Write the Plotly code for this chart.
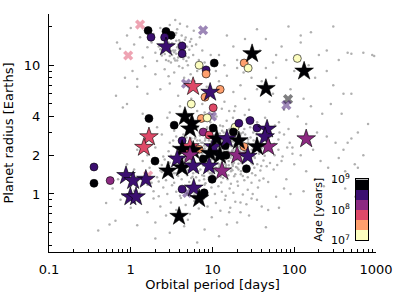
import plotly.graph_objects as go

# ---------------- background sample (period [d], radius [Re]) ----------------
hot_jupiters = [(3.5,13),(3.2,12),(4.1,14),(2.9,15),(3.8,11.5),(4.5,12.5),(3.0,13.5),(2.5,12.8),(5.2,13.2),(3.6,15.5),
    (4.8,10.8),(2.7,11),(3.3,16.5),(4.2,17),(2.2,14),(5.8,12),(3.9,9.8),(2.4,16),(6.3,14.5),(3.1,10.5),(4.6,15.8),(2.8,18),
    (3.7,19),(5.5,16),(2.0,12.5),(1.8,15),(6.8,11),(4.3,9.5),(3.4,8.8),(5.0,10),(2.6,9.3),(7.5,13),(1.6,13.8),(2.3,19.5),
    (4.0,21),(3.0,20.5),(5.9,18.5),(1.9,17.5),(6.5,9),(8.0,10.5),(2.1,10.8),(4.9,20),(3.5,22.5),(1.4,11.5),(1.3,16.5),
    (9.5,12),(7.0,16.5),(2.9,8.2),(5.4,8.5),(3.6,17.8),(4.4,13.6),(3.9,12.2),(2.6,13.9),(3.3,14.6),(4.7,11.8),(3.1,12.9),
    (5.6,14.1),(2.4,11.9),(4.0,15.1),(3.7,10.9),(0.66,5.8),(0.8,4.7),(0.68,15),(0.74,13.4),(0.9,17),(1.05,9),(1.1,14.5),
    (1.2,6.8),(1.0,19.5),(0.85,8.0),(1.4,4.2),(1.5,9.8)]
hot_jupiter_core = [(2.8,13.2),(3.0,11.8),(3.2,14.8),(3.4,12.6),(3.5,10.9),(3.7,13.8),(3.9,15.6),(4.0,12.0),(4.2,13.1),
    (4.4,11.2),(4.5,14.2),(4.7,16.4),(3.1,16.0),(3.6,12.3),(2.7,14.5),(2.6,12.2),(3.3,13.0),(3.8,14.4),(4.1,11.6),(4.9,13.9),
    (5.1,11.5),(2.9,10.8),(3.5,17.2),(4.3,15.0),(3.0,14.1),(3.9,13.3),(4.6,12.9),(5.3,15.2),(2.3,13.3),(3.4,11.3)]
intermediate = [(2.3,6.5),(3.0,7.2),(4.5,8.0),(6.0,7.5),(8.5,6.8),(12,7.5),(15,8.3),(5.5,5.5),(7.5,5.0),(10,5.8),(14,5.2),
    (18,6.2),(22,7.0),(25,5.5),(30,8.0),(9,8.5),(11,9.0),(20,9.5),(13,4.6),(16,4.4),(3.8,5.8),(2.0,8.5),(1.6,6.0),(0.9,5.0),
    (1.2,7.8),(35,6.5),(40,7.5),(50,5.2),(28,4.5),(6.5,4.4),(4.0,4.8),(8.0,4.3),(12.5,6.3),(19,4.8),(24,8.8),(45,9.5),(60,8.0),(55,6.0)]
outer = [(60,12),(80,11),(120,15),(150,10),(200,12),(250,13),(350,11),(450,12.5),(500,12.3),(70,14),(100,9),(180,8),(300,7),
    (400,6),(90,6.5),(130,5.5),(160,4.8),(220,4.2),(280,5),(75,4.5),(110,4),(65,3.6),(85,3.2),(140,3.5),(190,3),(250,2.8),
    (320,2.5),(500,2.7),(600,3.0),(95,2.3),(120,2.0),(170,2.2),(210,1.8),(260,1.6),(350,1.9),(420,1.5),(140,1.5),(100,1.7),
    (80,1.3),(180,1.3),(230,1.15),(300,1.25),(130,1.05),(90,1.0),(400,2.2),(550,1.7),(45,16),(38,13),(55,10.5),(120,17),
    (160,18),(35,19),(25,16),(18,14),(15,17),(12,12),(20,11),(14,10),(300,20),(700,12.5),(250,9.0),(85,20),(900,12),(950,11.8),
    (380,4.2),(450,2.5),(600,1.6),(800,3.5),(500,6),(700,2.0),(420,1.1),(560,0.95),
    (16,0.72),(22,0.86),(28,0.68),(35,0.9),(48,0.75),(60,0.95),(75,1.1),(20,0.6),(45,0.55),(65,0.78)]
small_planets = [
    (2.1,3.3),(2.8,3.9),(3.4,3.1),(4.1,3.6),(4.9,3.2),(5.6,4.1),(6.3,3.4),(7.1,3.0),(7.9,3.8),(8.6,3.3),(9.4,3.6),(10.3,3.1),
    (11.2,4.0),(12.4,3.4),(13.7,3.0),(14.9,3.7),(16.2,3.2),(17.8,3.9),(19.5,3.1),(21.3,3.5),(23.6,3.0),(26.0,3.8),(28.9,3.3),
    (31.5,3.0),(35.2,3.6),(39.0,3.2),(44.0,3.9),(49.5,3.1),(58.0,3.4),(66.0,3.0),(3.0,4.3),(9.9,4.2),(18.5,4.4),(24.8,4.1),(6.8,3.7),
    (1.8,2.6),(2.4,2.9),(3.0,2.5),(3.6,2.8),(4.2,2.45),(4.8,2.75),(5.3,2.55),(5.9,2.95),(6.5,2.6),(7.0,2.85),(7.6,2.5),(8.2,2.7),
    (8.9,2.9),(9.6,2.55),(10.2,2.8),(10.9,2.45),(11.6,2.65),(12.3,2.95),(13.1,2.6),(13.9,2.8),(14.8,2.5),(15.7,2.75),(16.7,2.95),
    (17.9,2.55),(19.0,2.7),(20.4,2.45),(21.8,2.85),(23.3,2.6),(25.1,2.9),(27.0,2.5),(29.2,2.75),(31.8,2.6),(34.5,2.9),(37.6,2.5),
    (41.0,2.7),(45.5,2.55),(51.0,2.8),(57.0,2.45),(64.0,2.65),(75.0,2.9),(88.0,2.5),(6.1,2.7),(9.1,2.75),(12.0,2.5),(16.0,2.62),
    (1.2,2.2),(1.6,2.0),(2.0,2.3),(2.5,1.95),(2.9,2.15),(3.3,2.35),(3.7,2.0),(4.1,2.25),(4.5,1.92),(4.9,2.1),(5.3,2.38),(5.7,2.02),
    (6.1,2.2),(6.6,1.95),(7.0,2.32),(7.5,2.08),(8.0,2.25),(8.5,1.98),(9.0,2.15),(9.5,2.36),(10.1,2.05),(10.7,2.22),(11.3,1.93),
    (11.9,2.3),(12.6,2.1),(13.3,1.97),(14.0,2.28),(14.8,2.05),(15.6,2.35),(16.5,2.0),(17.4,2.18),(18.4,1.94),(19.5,2.3),(20.7,2.08),
    (22.0,2.25),(23.4,1.96),(24.9,2.14),(26.5,2.37),(28.3,2.02),(30.2,2.2),(32.3,1.95),(34.6,2.3),(37.2,2.1),(40.0,2.27),(43.5,1.98),
    (47.5,2.16),(52.0,2.34),(57.5,2.0),(64.0,2.2),(72.0,1.95),(82.0,2.3),(95.0,2.05),(5.0,2.0),(7.8,2.12),(10.4,2.0),(13.7,2.16),
    (18.0,2.05),(21.0,2.33),(3.1,1.98),(6.3,2.28)]
super_earths = [
    (0.9,1.7),(1.1,1.55),(1.4,1.8),(1.7,1.6),(2.0,1.75),(2.3,1.52),(2.6,1.85),(2.9,1.65),(3.2,1.5),(3.5,1.78),(3.8,1.6),(4.2,1.88),
    (4.6,1.68),(5.0,1.53),(5.4,1.8),(5.8,1.62),(6.2,1.72),(6.7,1.5),(7.2,1.86),(7.7,1.66),(8.2,1.55),(8.8,1.78),(9.4,1.6),(10.0,1.7),
    (10.7,1.52),(11.4,1.84),(12.2,1.64),(13.0,1.75),(13.9,1.54),(14.8,1.88),(15.8,1.67),(16.9,1.58),(18.1,1.8),(19.4,1.62),(20.8,1.72),
    (22.3,1.5),(24.0,1.85),(25.8,1.65),(27.8,1.56),(30.0,1.78),(32.5,1.6),(35.3,1.7),(38.5,1.52),(42.0,1.82),(46.0,1.64),(50.5,1.74),
    (56.0,1.55),(62.0,1.68),(70.0,1.8),(4.0,1.7),(6.0,1.58),(8.5,1.68),(11.0,1.6),(14.3,1.72),(17.5,1.53),(2.4,1.68),(3.0,1.75),
    (5.2,1.62),(9.7,1.85),(12.6,1.57),
    (0.7,1.3),(0.95,1.45),(1.2,1.25),(1.5,1.4),(1.8,1.22),(2.1,1.35),(2.4,1.48),(2.7,1.28),(3.0,1.42),(3.4,1.22),(3.8,1.38),(4.2,1.3),
    (4.7,1.46),(5.2,1.24),(5.7,1.36),(6.3,1.48),(6.9,1.27),(7.5,1.4),(8.2,1.21),(9.0,1.34),(9.8,1.45),(10.7,1.26),(11.7,1.38),
    (12.8,1.23),(14.0,1.44),(15.3,1.3),(16.8,1.2),(18.4,1.37),(20.2,1.25),(22.2,1.42),(24.5,1.28),(27.0,1.35),(30.0,1.22),(33.5,1.4),
    (37.5,1.27),(42.0,1.32),(48.0,1.24),(3.6,1.45),(5.5,1.33),(7.9,1.3),(10.2,1.38),(13.5,1.33),(2.2,1.25),(1.35,1.33),
    (0.6,1.1),(0.8,0.98),(1.0,1.15),(1.3,1.02),(1.6,1.18),(1.9,1.05),(2.2,0.96),(2.5,1.12),(2.8,1.0),(3.2,1.17),(3.6,1.04),(4.0,0.97),
    (4.4,1.13),(4.9,1.01),(5.4,1.16),(6.0,0.99),(6.6,1.1),(7.3,1.03),(8.0,1.18),(8.8,0.98),(9.7,1.12),(10.7,1.0),(11.8,1.15),
    (13.0,1.04),(14.5,0.97),(16.2,1.1),(18.0,1.02),(20.5,1.16),(23.5,0.99),(27.0,1.08),(31.0,1.0),(36.0,1.12),(4.7,1.07),(7.0,1.14),
    (1.1,1.06),
    (0.5,0.85),(0.75,0.9),(1.0,0.78),(1.3,0.88),(1.6,0.72),(1.9,0.92),(2.3,0.8),(2.7,0.68),(3.1,0.86),(3.6,0.75),(4.1,0.93),(4.7,0.82),
    (5.3,0.7),(6.0,0.88),(6.8,0.77),(7.7,0.91),(8.7,0.8),(9.8,0.66),(11.0,0.85),(12.5,0.74),(14.2,0.9),(16.5,0.78),(19.0,0.87),
    (22.0,0.72),(26.0,0.83),(30.0,0.92),(0.65,0.62),(2.0,0.6),(5.0,0.63),(40.0,0.8),
    (0.4,0.52),(1.2,0.57),(3.0,0.5),(4.5,0.56),(8.0,0.53),(12.0,0.47),(2.0,0.45),(6.5,0.42),(0.55,0.58),(15.0,0.58)]
dense_core = [(6.4,2.42),(7.3,1.9),(8.1,2.6),(8.7,2.05),(9.3,1.45),(9.9,2.5),(10.6,1.82),(11.1,2.37),(11.8,1.55),(12.5,2.7),
    (13.2,1.88),(13.8,2.45),(14.5,1.62),(15.2,2.15),(16.0,1.92),(16.8,2.58),(17.6,1.7),(18.6,2.4),(19.8,1.85),(21.2,2.6),(22.6,1.75),
    (24.2,2.2),(25.9,1.58),(27.4,2.5),(29.6,1.9),(6.9,1.74),(7.9,2.38),(9.0,1.62),(10.3,2.55),(11.5,1.72),(12.9,2.25),(14.2,1.8),
    (15.9,2.4),(17.2,1.98),(19.0,2.62),(20.1,1.6),(23.0,2.05),(26.7,2.32),(31.0,1.7),(8.4,2.9)]
dense_core_2 = [(3.3,2.6),(3.6,1.9),(3.9,2.3),(4.3,1.6),(4.4,2.9),(4.7,2.2),(5.1,1.75),(5.3,3.1),(5.6,2.45),(5.8,1.45),(6.0,2.05),
    (6.2,2.75),(6.5,1.68),(6.7,2.25),(6.9,3.0),(7.1,1.55),(7.3,2.5),(7.6,1.85),(7.8,2.15),(8.0,2.95),(8.3,1.72),(8.5,2.35),(8.8,1.5),
    (9.0,2.6),(9.2,1.95),(9.5,2.25),(9.7,3.05),(10.0,1.65),(10.3,2.1),(10.5,2.85),(10.8,1.78),(11.0,2.45),(11.3,1.5),(11.6,2.05),
    (11.9,2.75),(12.2,1.7),(12.5,2.3),(12.8,1.95),(13.1,3.1),(13.5,1.55),(13.8,2.55),(14.2,2.0),(14.6,1.68),(15.0,2.9),(15.4,2.2),
    (15.8,1.8),(16.3,2.5),(16.8,1.5),(17.3,2.1),(17.8,2.8),(18.3,1.75),(18.9,2.35),(19.5,1.95),(20.1,2.7),(20.8,1.55),(21.5,2.15),
    (22.3,2.95),(23.1,1.8),(24.0,2.45),(25.0,2.0),(26.0,1.6),(27.2,2.65),(28.5,2.1),(29.8,1.75),(31.2,2.4),(33.0,1.9),(35.0,2.7),
    (37.0,2.05),(39.5,1.65),(3.4,1.45),(4.0,2.65),(4.9,1.4),(5.5,2.7),(6.3,1.35),(7.0,2.6),(7.9,1.38),(8.9,2.4),(9.9,1.42),(11.2,2.6),
    (12.6,1.36),(14.0,2.4),(15.6,1.4),(17.0,2.35),(19.0,1.42),(21.0,2.5),(23.5,1.38),(26.5,2.25),(30.5,1.45),(34.0,2.2),(6.6,3.3),
    (8.6,3.2),(10.9,3.3),(13.4,3.35),(16.0,3.15),(19.8,3.25),(24.5,3.2),(5.0,2.3),(7.4,2.0),(9.4,1.78),(10.6,2.38),(12.0,2.15),
    (13.0,1.85),(14.9,2.1),(16.6,1.9),(18.0,2.2),(20.5,2.0),(22.8,2.3),(4.6,1.85),(5.9,2.15),(8.1,1.95),(9.8,2.05),(11.5,1.9),
    (12.9,2.45),(15.2,2.55),(17.7,1.65),(19.9,2.15),(22.0,1.9)]

# ---------------- young planets (log10 age) ----------------
circ_period = [1.63,1.77,2.70,3.11,2.60,4.25,4.25,6.86,10.5,8.35,8.35,24.4,27.3,109,12.4,8.1,5.5,10.2,1.67,3.4,7.3,8.6,18.9,21,
               28.8,35,7.7,9.1,4.25,6.86,24.4,14.3,14.6,7.7,1.98,0.355,0.355,0.56,26,9.9,4.25,7.9,10.2,18]
circ_radius = [18.6,16.5,18.3,17.1,16.5,14.1,12.3,10.0,10.4,9.2,8.55,10.4,9.5,11.3,6.49,5.65,5.0,4.67,3.86,3.42,3.86,3.9,3.3,3.54,
               3.72,3.25,3.03,2.87,2.59,2.22,2.33,2.37,2.0,1.87,1.8,1.62,1.21,1.27,1.57,1.30,1.09,1.02,3.25,3.03]
circ_age = [8.9,8.5,8.9,8.9,8.5,8.5,8.5,7.1,8.9,8.5,7.5,7.5,7.1,7.1,7.5,7.5,7.1,7.8,8.9,8.9,7.5,7.1,7.1,8.5,
            8.5,8.5,8.15,7.8,8.5,7.5,7.5,8.9,8.9,8.9,8.9,8.5,8.9,8.15,8.9,8.9,8.5,8.9,8.9,8.9]

star_period = [2.7,5.79,9.35,30.5,132,45,4.6,5.6,5.3,1.67,1.45,5.3,4.25,5.8,10.2,11.3,15.0,21,46.5,44,140,48,35,12.3,20,27,3.7,
               5.3,2.86,4.25,5.8,9.1,13.1,1.53,5.9,6.86,3.9,0.875,1.07,0.99,1.16,9.3]
star_radius = [13.9,6.83,6.16,12.3,9.0,6.6,4.0,3.54,3.2,2.78,2.3,2.33,2.22,2.18,2.33,2.68,2.68,2.59,3.19,2.78,2.68,2.33,2.33,2.0,
               2.0,1.96,1.87,2.0,1.51,1.6,1.65,1.65,1.51,1.30,1.11,0.92,0.67,1.39,1.27,0.95,0.95,2.07]
star_age = [8.5,7.8,8.5,8.9,8.9,8.9,8.9,8.9,8.9,7.8,7.8,7.8,8.9,8.9,8.5,8.9,8.5,8.9,8.5,8.5,8.15,8.15,8.9,8.9,8.15,8.5,8.5,
            8.15,8.9,8.9,8.5,8.5,8.15,8.5,8.5,8.9,8.9,8.5,8.5,8.5,8.5,8.9]

cross_period = [1.30,0.93,4.75,7.67,84,80,9.85,1.63,4.9]
cross_radius = [20.7,11.9,7.2,18.7,5.45,4.9,4.0,1.39,1.02]
cross_age = [7.8,7.8,8.5,8.5,8.9,8.5,8.5,7.8,8.5]

age_bins = [7.1667,7.5,7.8333,8.1667,8.5,8.8333]
age_ticks = [7,8,9]
age_ticktext = ["10<sup>7</sup>","10<sup>8</sup>","10<sup>9</sup>"]
bin_colors = ["#fcfdbf","#fe9f6d","#de4968","#8c2981","#3b0f70","#000004"]

x_ticks = [0.1,1,10,100,1000]
x_ticktext = ["0.1","1","10","100","1000"]
y_ticks = [1,2,4,10]
y_ticktext = ["1","2","4","10"]

# --------------------------------------------------------------
scale = []
for i, c in enumerate(bin_colors):
    scale += [[i/6, c], [(i+1)/6, c]]

bg = hot_jupiters + hot_jupiter_core + intermediate + outer + small_planets + super_earths + dense_core + dense_core_2
bg_p = [p for p, r in bg]
bg_r = [r for p, r in bg]

FONT = "DejaVu Sans"
fig = go.Figure()
fig.add_trace(go.Scatter(x=bg_p, y=bg_r, mode="markers",
                         marker=dict(size=2.5, color="#b0b0b0", line=dict(width=0)),
                         hoverinfo="skip", showlegend=False))
fig.add_trace(go.Scatter(x=cross_period, y=cross_radius, mode="markers",
                         marker=dict(symbol="x", size=9, color=cross_age, colorscale=scale, cmin=7, cmax=9,
                                     opacity=0.5, line=dict(width=0)), showlegend=False))
fig.add_trace(go.Scatter(x=circ_period, y=circ_radius, mode="markers",
                         marker=dict(symbol="circle", size=8, color=circ_age, colorscale=scale, cmin=7, cmax=9,
                                     line=dict(width=0.6, color="black")), showlegend=False))
fig.add_trace(go.Scatter(x=star_period, y=star_radius, mode="markers",
                         marker=dict(symbol="star", size=14, color=star_age, colorscale=scale, cmin=7, cmax=9,
                                     line=dict(width=0.6, color="black")), showlegend=False))

# colour bar drawn as a heatmap on its own small axes
fig.add_trace(go.Heatmap(x=[0], y=age_bins, z=[[a] for a in age_bins], colorscale=scale, zmin=7, zmax=9,
                         showscale=False, xaxis="x2", yaxis="y2", hoverinfo="skip"))

W, H = 399, 298
L, R, T, B = 49, 23, 6, 46
pw, ph = W - L - R, H - T - B
def fx(px): return (px - L) / pw
def fy(py): return (H - B - py) / ph

minor_x = [m * 10**e for e in range(-1, 3) for m in range(2, 10)]
minor_y = [0.4,0.5,0.6,0.7,0.8,0.9,3,5,6,7,8,9,20]

fig.update_layout(
    width=W, height=H, margin=dict(l=L, r=R, t=T, b=B),
    paper_bgcolor="white", plot_bgcolor="white",
    font=dict(family=FONT, size=13, color="black"),
    xaxis=dict(type="log", range=[-1, 3], tickvals=x_ticks, ticktext=x_ticktext,
               ticks="inside", ticklen=5, tickwidth=1, tickcolor="black",
               showline=True, linecolor="black", linewidth=1, showgrid=False, zeroline=False,
               minor=dict(ticks="inside", ticklen=3, tickwidth=1, tickcolor="black", tickvals=minor_x, showgrid=False),
               ticklabelstandoff=5,
               title=dict(text="Orbital period [days]", font=dict(size=13), standoff=4)),
    yaxis=dict(type="log", range=[-0.451, 1.398], tickvals=y_ticks, ticktext=y_ticktext,
               ticks="inside", ticklen=5, tickwidth=1, tickcolor="black",
               showline=True, linecolor="black", linewidth=1, showgrid=False, zeroline=False,
               minor=dict(ticks="inside", ticklen=3, tickwidth=1, tickcolor="black", tickvals=minor_y, showgrid=False),
               ticklabelstandoff=5,
               title=dict(text="Planet radius [Earths]", font=dict(size=13), standoff=7)),
    xaxis2=dict(domain=[fx(356), fx(368)], anchor="y2", showticklabels=False, ticks="",
                showline=True, mirror=True, linecolor="black", linewidth=1, showgrid=False, zeroline=False,
                range=[-0.5, 0.5]),
    yaxis2=dict(domain=[fy(240), fy(177)], anchor="x2", range=[7, 9], tickvals=age_ticks, ticktext=age_ticktext,
                ticks="", showline=True, mirror=True, linecolor="black", linewidth=1, showgrid=False, zeroline=False,
                tickfont=dict(size=11), ticklabelstandoff=3),
    annotations=[dict(text="Age [years]", xref="paper", yref="paper", x=fx(318), y=fy(208),
                      xanchor="center", yanchor="middle", textangle=-90, showarrow=False,
                      font=dict(size=11, family=FONT))],
)
fig.write_html("out.html", config={"displayModeBar": False},
               post_script="document.body.style.margin='0px';document.body.style.overflow='hidden';")
